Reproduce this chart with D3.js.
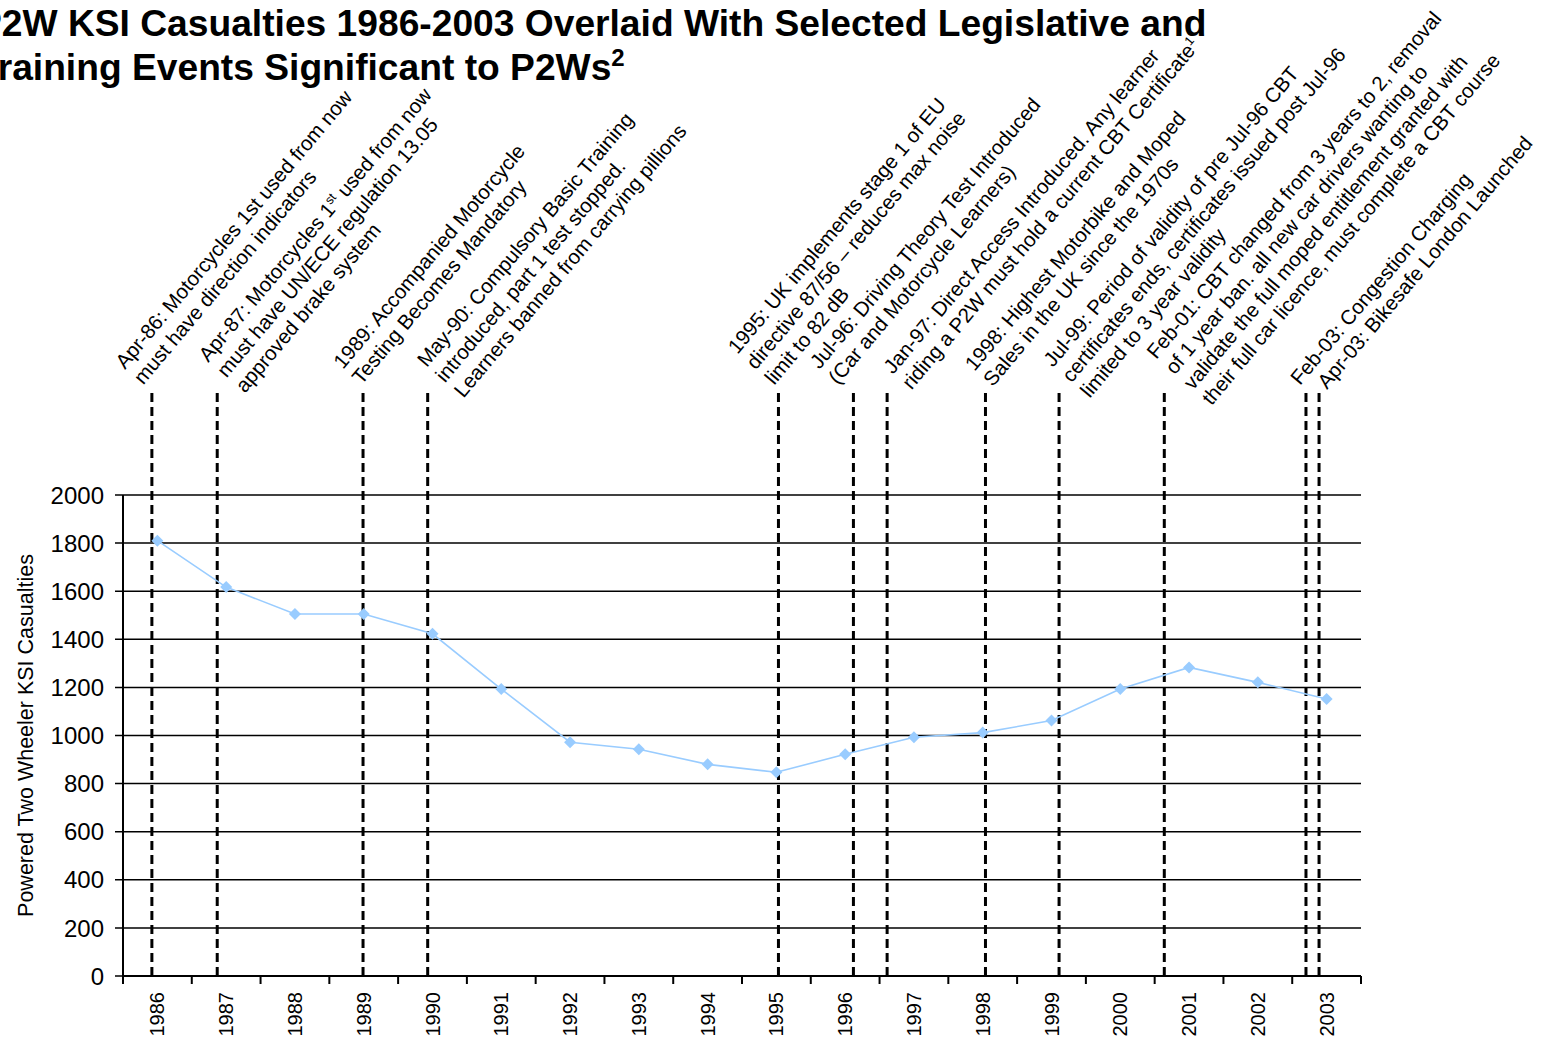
<!DOCTYPE html>
<html>
<head>
<meta charset="utf-8">
<script src="https://cdn.jsdelivr.net/npm/d3@7"></script>
<style>
  body { margin: 0; background: #fff; }
  svg { display: block; }
  text { font-family: "Liberation Sans", Arial, sans-serif; fill: #000; }
</style>
</head>
<body>
<svg id="chart" width="1541" height="1042"></svg>
<script>
// Annual powered two wheeler killed-or-seriously-injured casualties
const years = [1986, 1987, 1988, 1989, 1990, 1991, 1992, 1993, 1994, 1995,
               1996, 1997, 1998, 1999, 2000, 2001, 2002, 2003];
const casualties = [1810, 1617, 1505, 1505, 1423, 1193, 972, 943, 880, 847,
                    922, 993, 1012, 1062, 1193, 1283, 1221, 1152];
const yTicks = [0, 200, 400, 600, 800, 1000, 1200, 1400, 1600, 1800, 2000];

// Legislative / training events, as fractional years along the time axis
const eventDates = [1986.42, 1987.37, 1989.49, 1990.43, 1995.53, 1996.62,
                    1997.11, 1998.54, 1999.61, 2001.14, 2003.20, 2003.39];
// Text of each event; {..} marks superscript
const eventLabels = [
  ["Apr-86: Motorcycles 1st used from now", "must have direction indicators"],
  ["Apr-87: Motorcycles 1{st} used from now", "must have UN/ECE regulation 13.05", "approved brake system"],
  ["1989: Accompanied Motorcycle", "Testing Becomes Mandatory"],
  ["May-90: Compulsory Basic Training", "introduced, part 1 test stopped.", "Learners banned from carrying pillions"],
  ["1995: UK implements stage 1 of EU", "directive 87/56 \u2013 reduces max noise", "limit to 82 dB"],
  ["Jul-96: Driving Theory Test Introduced", "(Car and Motorcycle Learners)"],
  ["Jan-97: Direct Access Introduced.  Any learner", "riding a P2W must hold a current CBT Certificate{1}"],
  ["1998: Highest Motorbike and Moped", "Sales in the UK since the 1970s"],
  ["Jul-99: Period of validity of pre Jul-96 CBT", "certificates ends, certificates issued post Jul-96", "limited to 3 year validity"],
  ["Feb-01: CBT changed from 3 years to 2, removal", "of 1 year ban. all new car drivers wanting to", "validate the full moped entitlement granted with", "their full car licence, must complete a CBT course"],
  ["Feb-03: Congestion Charging"],
  ["Apr-03: Bikesafe London Launched"]
];
// Layout of each label: start of its first line, [offset from event line, baseline y]
const labelAnchors = [[-27, 370], [-9, 363], [-20, 370], [-1, 368], [-41, 355], [-34, 370],
                      [6, 375], [-11, 372], [-6, 368], [-8, 360], [-6, 386], [8, 390]];

const titleLines = [["P2W KSI Casualties 1986-2003 Overlaid With Selected Legislative and"],
                    ["Training Events Significant to P2Ws", "2"]];
const yTitle = "Powered Two Wheeler KSI Casualties";

const svg = d3.select("#chart");
const plotLeft = 123, plotRight = 1361, plotTop = 495, plotBottom = 976;

const x = d3.scaleBand().domain(years).range([plotLeft, plotRight]).padding(0);
const xt = d3.scaleLinear().domain([1986, 2004]).range([plotLeft, plotRight]);
const y = d3.scaleLinear().domain([0, 2000]).range([plotBottom, plotTop]);

// Horizontal gridlines, extending left past the axis as tick marks
svg.append("g").selectAll("line").data(yTicks).join("line")
  .attr("x1", plotLeft - 8).attr("x2", plotRight)
  .attr("y1", d => y(d)).attr("y2", d => y(d))
  .attr("stroke", "#000").attr("stroke-width", 1.5);

// Y tick labels
svg.append("g").selectAll("text").data(yTicks).join("text")
  .attr("x", plotLeft - 19).attr("y", d => y(d))
  .attr("dy", "0.36em").attr("text-anchor", "end")
  .style("font-size", "24px").text(d => d);

// Axes lines
svg.append("line").attr("x1", plotLeft).attr("x2", plotLeft).attr("y1", plotTop).attr("y2", plotBottom)
  .attr("stroke", "#000").attr("stroke-width", 2);
svg.append("line").attr("x1", plotLeft).attr("x2", plotRight).attr("y1", plotBottom).attr("y2", plotBottom)
  .attr("stroke", "#000").attr("stroke-width", 2);

// Category boundary ticks below the x axis
const boundaries = years.map(d => x(d)).concat([plotRight]);
svg.append("g").selectAll("line").data(boundaries).join("line")
  .attr("x1", d => d).attr("x2", d => d).attr("y1", plotBottom).attr("y2", plotBottom + 8)
  .attr("stroke", "#000").attr("stroke-width", 2);

// Year labels, rotated
svg.append("g").selectAll("text").data(years).join("text")
  .attr("transform", d => `translate(${x(d) + x.bandwidth() / 2 + 7},${plotBottom + 16}) rotate(-90)`)
  .attr("text-anchor", "end")
  .style("font-size", "20px").text(d => d);

// Y axis title
svg.append("text")
  .attr("transform", `translate(33,${(plotTop + plotBottom) / 2}) rotate(-90)`)
  .attr("text-anchor", "middle").style("font-size", "21.5px").text(yTitle);

// Event lines
const eventTop = 393;
svg.append("g").selectAll("line").data(eventDates).join("line")
  .attr("x1", d => xt(d)).attr("x2", d => xt(d))
  .attr("y1", eventTop).attr("y2", plotBottom)
  .attr("stroke", "#000").attr("stroke-width", 3).attr("stroke-dasharray", "9,5");

// Casualty series
const line = d3.line().x((d, i) => x(years[i]) + x.bandwidth() / 2).y(d => y(d));
svg.append("path").datum(casualties).attr("d", line)
  .attr("fill", "none").attr("stroke", "#99CCFF").attr("stroke-width", 1.6);
svg.append("g").selectAll("path").data(casualties).join("path")
  .attr("transform", (d, i) => `translate(${x(years[i]) + x.bandwidth() / 2},${y(d)})`)
  .attr("d", "M0,-6L6,0L0,6L-6,0Z").attr("fill", "#99CCFF");

// Writes a string into a text element, turning {..} into superscript spans
function richText(sel, str, fs) {
  const parts = str.split(/(\{[^}]*\})/).filter(s => s.length);
  parts.forEach(p => {
    if (p.startsWith("{")) {
      sel.append("tspan").attr("dy", -fs * 0.38).style("font-size", (fs * 0.62) + "px").text(p.slice(1, -1));
      sel.append("tspan").attr("dy", fs * 0.38).text("\u200b");
    } else {
      sel.append("tspan").text(p);
    }
  });
}

// Event annotations, rotated
const angle = -50, lineGap = 24, annFs = 20.5;
const ann = svg.append("g").selectAll("g").data(eventLabels).join("g")
  .attr("transform", (d, i) => `translate(${xt(eventDates[i]) + labelAnchors[i][0]},${labelAnchors[i][1]}) rotate(${angle})`);
ann.each(function(lines) {
  const g = d3.select(this);
  lines.forEach((ln, j) => {
    const t = g.append("text").attr("x", 0).attr("y", j * lineGap).style("font-size", annFs + "px");
    richText(t, ln, annFs);
  });
});

// Title
const title = svg.append("text").style("font-size", "37.2px").style("font-weight", "bold");
titleLines.forEach((ln, i) => {
  title.append("tspan").attr("x", -23).attr("y", 36 + i * 44).text(ln[0]);
  if (ln[1]) title.append("tspan").attr("dy", -14).style("font-size", "24px").text(ln[1]);
});
</script>
</body>
</html>
